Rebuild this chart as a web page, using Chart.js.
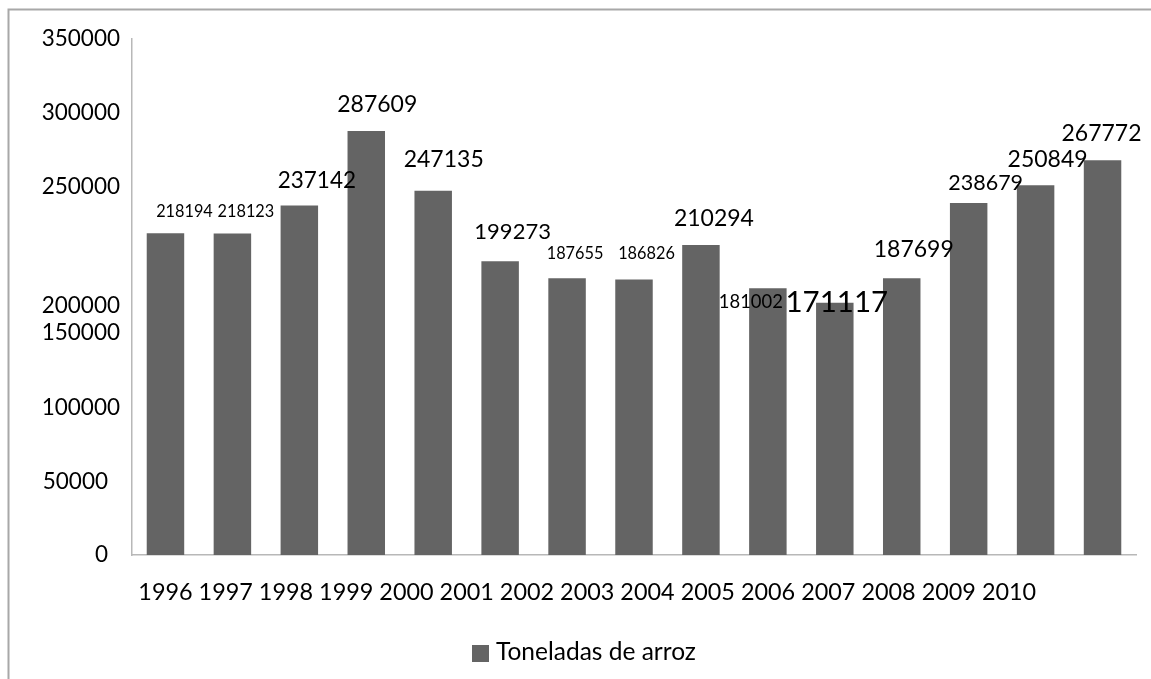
<!DOCTYPE html>
<html>
<head>
<meta charset="utf-8">
<title>Toneladas de arroz</title>
<script src="https://cdn.jsdelivr.net/npm/chart.js@4.4.1/dist/chart.umd.min.js"></script>
<style>
  html, body { margin: 0; padding: 0; background: #fff; }
  canvas { display: block; }
</style>
</head>
<body>
<canvas id="chart" width="1151" height="679"></canvas>
<script>
// data
const years = ['1996', '1997', '1998', '1999', '2000', '2001', '2002', '2003', '2004', '2005', '2006', '2007', '2008', '2009', '2010'];
const toneladas = [218194, 218123, 237142, 287609, 247135, 199273, 187655, 186826, 210294, 181002, 171117, 187699, 238679, 250849, 267772];
const yTicks = [0, 50000, 100000, 150000, 200000, 250000, 300000, 350000];
const seriesName = 'Toneladas de arroz';

// the original labels are placed by hand, so each one has its own size and nudge
const labelSize = [16.3, 16.3, 22.5, 23, 23, 22, 16.3, 16.3, 23, 18.4, 29.5, 23, 21.5, 23, 23];
const labelDx = [19, 13.5, 17.5, 11, 10.5, 12.5, 8, 12.5, 13, -17, 2, 12, 17, 12, -1];
const labelDy = [-22, -22, -25, -26, -31, -29, -25, -26, -26, 14, 0, -29, -20, -26, -27];
// y tick labels that sit off their value in the original: [value, dx, dy]
const yTickNudge = [[0, -12, 0], [50000, -12, 0], [150000, 0, -1], [200000, 0, 46]];

const FONT = 'Lato, "Open Sans", sans-serif';
const BAR_COLOR = '#646464';
const AXIS_COLOR = '#b8b8b8';

// draws frame, tick labels, value labels and legend
const decor = {
  id: 'decor',
  afterDraw(chart) {
    const ctx = chart.ctx;
    const area = chart.chartArea;
    const xs = chart.scales.x;
    const ys = chart.scales.y;

    ctx.save();
    // outer frame (only top and left show in the picture)
    ctx.strokeStyle = '#a8a8a8';
    ctx.lineWidth = 2;
    ctx.beginPath();
    ctx.moveTo(8.5, chart.height);
    ctx.lineTo(8.5, 9.5);
    ctx.lineTo(chart.width, 9.5);
    ctx.stroke();

    ctx.fillStyle = '#000';

    // y labels
    ctx.font = '22.5px ' + FONT;
    ctx.textAlign = 'right';
    ctx.textBaseline = 'middle';
    yTicks.forEach(v => {
      const n = yTickNudge.find(t => t[0] === v) || [v, 0, 0];
      ctx.fillText(String(v), area.left - 12 + n[1], ys.getPixelForValue(v) + n[2]);
    });

    // x labels, written as one run of text like the original
    ctx.font = '23.4px ' + FONT;
    ctx.textAlign = 'left';
    const x0 = xs.getPixelForValue(0) - ctx.measureText(years[0]).width / 2;
    ctx.fillText(years.join(' '), x0, area.bottom + 37);

    // value labels
    ctx.textAlign = 'center';
    const meta = chart.getDatasetMeta(0);
    meta.data.forEach((bar, i) => {
      ctx.font = labelSize[i] + 'px ' + FONT;
      ctx.fillText(String(toneladas[i]), bar.x + labelDx[i], bar.y + labelDy[i]);
    });

    // legend
    const ds = chart.data.datasets[0];
    ctx.fillStyle = ds.backgroundColor;
    ctx.fillRect(472, 645, 17, 17);
    ctx.fillStyle = '#000';
    ctx.font = '24.5px ' + FONT;
    ctx.textAlign = 'left';
    ctx.fillText(ds.label, 496, 652);
    ctx.restore();
  }
};

new Chart(document.getElementById('chart'), {
  type: 'bar',
  data: {
    labels: years,
    datasets: [{
      label: seriesName,
      data: toneladas,
      backgroundColor: BAR_COLOR,
      barPercentage: 0.56,
      categoryPercentage: 1
    }]
  },
  options: {
    responsive: false,
    animation: false,
    layout: { padding: { left: 132, top: 39, right: 15, bottom: 124 } },
    plugins: {
      legend: { display: false },
      tooltip: { enabled: false }
    },
    scales: {
      x: {
        grid: { display: false, drawTicks: false },
        ticks: { display: false },
        border: { display: true, color: AXIS_COLOR, width: 1.5 },
        afterFit: s => { s.height = 0; }
      },
      y: {
        min: 0,
        max: 350000,
        grid: { display: false, drawTicks: false },
        ticks: { display: false },
        border: { display: true, color: AXIS_COLOR, width: 1.5 },
        afterFit: s => { s.width = 0; }
      }
    }
  },
  plugins: [decor]
});
</script>
</body>
</html>
